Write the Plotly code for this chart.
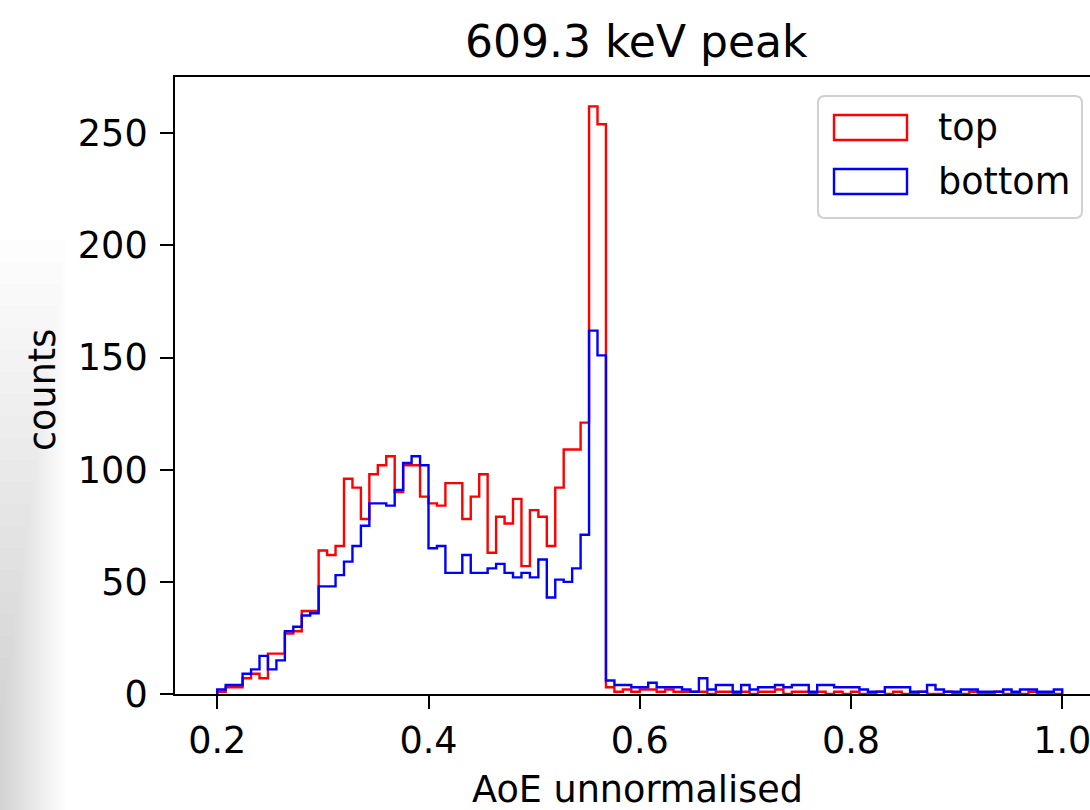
import numpy as np
import plotly.graph_objects as go

# ---------------- data ----------------
bin_edges = np.linspace(0.2, 1.0, 101)

top_counts = [
    1, 3, 3, 7, 9, 7, 18, 18, 27, 28,
    37, 37, 64, 62, 66, 96, 92, 78, 98, 102,
    106, 90, 102, 102, 88, 85, 84, 94, 94, 78,
    88, 98, 63, 79, 76, 87, 57, 82, 79, 66,
    92, 109, 109, 121, 262, 254, 3, 1, 2, 1,
    2, 2, 1, 2, 1, 1, 1, 1, 0, 1,
    1, 0, 1, 0, 1, 1, 2, 0, 1, 1,
    0, 1, 0, 1, 0, 1, 0, 0, 1, 0,
    1, 0, 0, 1, 0, 0, 1, 0, 0, 1,
    0, 0, 1, 0, 0, 0, 1, 0, 0, 0,
]

bottom_counts = [
    2, 4, 4, 9, 11, 17, 11, 15, 28, 30,
    35, 36, 48, 48, 53, 59, 66, 75, 85, 85,
    84, 91, 103, 106, 102, 65, 66, 54, 54, 62,
    54, 54, 56, 58, 54, 52, 54, 52, 60, 43,
    51, 50, 56, 71, 162, 151, 6, 4, 4, 3,
    3, 5, 3, 3, 3, 2, 1, 7, 2, 4,
    4, 1, 4, 2, 3, 3, 4, 3, 4, 4,
    1, 4, 4, 3, 3, 3, 2, 1, 1, 3,
    3, 3, 1, 1, 4, 2, 1, 1, 2, 2,
    1, 1, 1, 2, 1, 2, 2, 1, 1, 2,
]

series_names = ["top", "bottom"]
series_colors = ["#ff0000", "#0000ff"]

x_ticks = [0.2, 0.4, 0.6, 0.8, 1.0]
x_tick_labels = ["0.2", "0.4", "0.6", "0.8", "1.0"]
y_ticks = [0, 50, 100, 150, 200, 250]
y_tick_labels = ["0", "50", "100", "150", "200", "250"]

title_text = "609.3 keV peak"
x_title = "AoE unnormalised"
y_title = "counts"

# ---------------- layout geometry ----------------
W, H = 1090, 810
ML, MR, MT, MB = 175, 0, 77, 116
PW, PH = W - ML - MR, H - MT - MB
FONT = "DejaVu Sans"
FS = 36.6


def px(xp):
    return (xp - ML) / PW


def py(yp):
    return (H - MB - yp) / PH


def step_xy(edges, counts):
    xs = [edges[0]] + list(edges)
    ys = [0] + list(counts) + [0]
    return xs, ys


fig = go.Figure()
for name, counts, color in zip(series_names, [top_counts, bottom_counts], series_colors):
    xs, ys = step_xy(bin_edges, counts)
    fig.add_trace(go.Scatter(
        x=xs, y=ys, mode="lines", name=name,
        line=dict(color=color, width=2.4, shape="hv"),
        showlegend=False, hoverinfo="skip",
    ))

ymax = max(max(top_counts), max(bottom_counts)) * 1.05
x_left = 0.16
x_right = x_left + PW / 1056.25

shapes = []
annotations = []

# soft grey shadow at the left edge of the photo
for k in range(22):
    shapes.append(dict(
        type="rect", xref="paper", yref="paper",
        x0=px(0), x1=px(66 - 3 * k), y0=py(H), y1=py(240 + 22 * k),
        fillcolor="rgba(110,110,110,0.013)", line=dict(width=0), layer="below",
    ))

# legend (drawn manually to mimic patch handles)
lx0, lx1, ly0, ly1, r = 818, 1082, 96, 218, 7
path = (f"M {px(lx0 + r)},{py(ly0)} L {px(lx1 - r)},{py(ly0)} "
        f"Q {px(lx1)},{py(ly0)} {px(lx1)},{py(ly0 + r)} "
        f"L {px(lx1)},{py(ly1 - r)} Q {px(lx1)},{py(ly1)} {px(lx1 - r)},{py(ly1)} "
        f"L {px(lx0 + r)},{py(ly1)} Q {px(lx0)},{py(ly1)} {px(lx0)},{py(ly1 - r)} "
        f"L {px(lx0)},{py(ly0 + r)} Q {px(lx0)},{py(ly0)} {px(lx0 + r)},{py(ly0)} Z")
shapes.append(dict(type="path", xref="paper", yref="paper", path=path,
                   fillcolor="rgba(255,255,255,0.8)", line=dict(color="#d0d0d0", width=2)))
for i, (name, color) in enumerate(zip(series_names, series_colors)):
    y0 = 115 + 54 * i
    shapes.append(dict(type="rect", xref="paper", yref="paper",
                       x0=px(834), x1=px(907), y0=py(y0), y1=py(y0 + 25),
                       fillcolor="rgba(255,255,255,0)", line=dict(color=color, width=2.4)))
    annotations.append(dict(text=name, xref="paper", yref="paper",
                            x=px(936), y=py(y0 + 12.5), xanchor="left", yanchor="middle",
                            showarrow=False, font=dict(family=FONT, size=FS, color="black")))

# titles
annotations.append(dict(text=title_text, xref="paper", yref="paper", x=px(636), y=py(41),
                        xanchor="center", yanchor="middle", showarrow=False,
                        font=dict(family=FONT, size=44, color="black")))
annotations.append(dict(text=x_title, xref="paper", yref="paper", x=px(637), y=py(789),
                        xanchor="center", yanchor="middle", showarrow=False,
                        font=dict(family=FONT, size=FS, color="black")))
annotations.append(dict(text=y_title, xref="paper", yref="paper", x=px(42), y=py(390),
                        xanchor="center", yanchor="middle", showarrow=False, textangle=-90,
                        font=dict(family=FONT, size=FS, color="black")))

fig.update_layout(
    width=W, height=H,
    margin=dict(l=ML, r=MR, t=MT, b=MB, pad=0),
    paper_bgcolor="white", plot_bgcolor="white",
    font=dict(family=FONT, size=FS, color="black"),
    showlegend=False,
    shapes=shapes, annotations=annotations,
    xaxis=dict(range=[x_left, x_right], tickvals=x_ticks, ticktext=x_tick_labels,
               showgrid=False, zeroline=False, showline=True, linecolor="black", linewidth=2,
               mirror=True, ticks="outside", ticklen=13, tickwidth=2, tickcolor="black",
               ticklabeloverflow="allow", tickfont=dict(family=FONT, size=FS, color="black")),
    yaxis=dict(range=[0, ymax], tickvals=y_ticks, ticktext=y_tick_labels,
               showgrid=False, zeroline=False, showline=True, linecolor="black", linewidth=2,
               mirror=False, ticks="outside", ticklen=13, tickwidth=2, tickcolor="black",
               ticklabelstandoff=5,
               tickfont=dict(family=FONT, size=FS, color="black")),
)

fig.write_html("out.html")
